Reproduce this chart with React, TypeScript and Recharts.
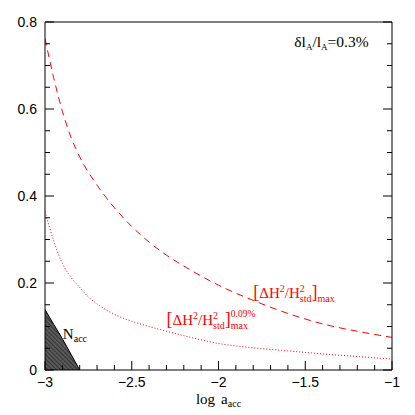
import React from 'react';
import {
  ComposedChart,
  Line,
  Area,
  XAxis,
  YAxis,
  ReferenceDot,
} from 'recharts';

// log a_acc grid for each curve
const dashedX = [-3, -2.95, -2.9, -2.85, -2.8, -2.7, -2.6, -2.5, -2.4, -2.3, -2.2, -2.0, -1.8, -1.6, -1.4, -1.2, -1.0];
const dashedY = [0.762, 0.672, 0.595, 0.535, 0.49, 0.425, 0.373, 0.33, 0.294, 0.264, 0.239, 0.195, 0.16, 0.13, 0.106, 0.089, 0.075];

const dottedX = [-3, -2.95, -2.9, -2.85, -2.8, -2.75, -2.7, -2.6, -2.5, -2.4, -2.2, -2.0, -1.8, -1.6, -1.4, -1.2, -1.0];
const dottedY = [0.364, 0.297, 0.245, 0.213, 0.19, 0.168, 0.152, 0.128, 0.112, 0.1, 0.079, 0.061, 0.051, 0.044, 0.037, 0.031, 0.025];

const naccX = [-3, -2.95, -2.9, -2.85, -2.8];
const naccY = [0.139, 0.105, 0.072, 0.036, 0];

const xMajorTicks = [-3, -2.5, -2, -1.5, -1];
const xMinorTicks = [-2.9, -2.8, -2.7, -2.6, -2.4, -2.3, -2.2, -2.1, -1.9, -1.8, -1.7, -1.6, -1.4, -1.3, -1.2, -1.1];
const yMajorTicks = [0, 0.2, 0.4, 0.6, 0.8];
const yMinorTicks = [0.05, 0.1, 0.15, 0.25, 0.3, 0.35, 0.45, 0.5, 0.55, 0.65, 0.7, 0.75];

const xTicks = [...xMajorTicks, ...xMinorTicks].sort((a, b) => a - b);
const yTicks = [...yMajorTicks, ...yMinorTicks].sort((a, b) => a - b);

const dashedData = dashedX.map((x, i) => ({ x, y: dashedY[i] }));
const dottedData = dottedX.map((x, i) => ({ x, y: dottedY[i] }));
const naccData = naccX.map((x, i) => ({ x, y: naccY[i] }));

const RED = '#ff0000';
const SERIF = '"Liberation Serif", "DejaVu Serif", serif';
const SANS = '"Liberation Sans", Arial, sans-serif';

const isMajor = (v: number, majors: number[]) => majors.some((m) => Math.abs(m - v) < 1e-6);
const fmt = (v: number) => (v < 0 ? '\u2212' + Math.abs(v) : String(v));

const XTick = ({ x, y, payload, side }: any) => {
  const major = isMajor(payload.value, xMajorTicks);
  const len = major ? 9 : 5;
  const dir = side === 'bottom' ? -1 : 1;
  return (
    <g>
      <line x1={x} x2={x} y1={y} y2={y + dir * len} stroke="#000" strokeWidth={1} />
      {side === 'bottom' && major && (
        <text x={x} y={y + 17} textAnchor="middle" fontFamily={SANS} fontSize={14} fill="#000">
          {fmt(payload.value)}
        </text>
      )}
    </g>
  );
};

const YTick = ({ x, y, payload, side }: any) => {
  const major = isMajor(payload.value, yMajorTicks);
  const len = major ? 9 : 5;
  const dir = side === 'left' ? 1 : -1;
  return (
    <g>
      <line x1={x} x2={x + dir * len} y1={y} y2={y} stroke="#000" strokeWidth={1} />
      {side === 'left' && major && (
        <text x={x - 8} y={y + 5} textAnchor="end" fontFamily={SANS} fontSize={14} fill="#000">
          {fmt(payload.value)}
        </text>
      )}
    </g>
  );
};

const XLabel = ({ viewBox }: any) => {
  const cx = viewBox.x + viewBox.width / 2;
  return (
    <text x={cx} y={viewBox.y + 34} textAnchor="middle" fontFamily={SERIF} fontSize={15} fill="#000">
      log<tspan dx={6}>a</tspan>
      <tspan fontSize={10} dy={3}>acc</tspan>
    </text>
  );
};

const MaxLabel = ({ cx, cy }: any) => (
  <text x={cx} y={cy} fontFamily={SERIF} fontSize={15} fill={RED}>
    <tspan fontSize={18}>[</tspan>
    <tspan>ΔH</tspan>
    <tspan fontSize={10} dy={-6}>2</tspan>
    <tspan dy={6}>/H</tspan>
    <tspan fontSize={10} dy={-6}>2</tspan>
    <tspan fontSize={10} dx={-5} dy={10}>std</tspan>
    <tspan fontSize={18} dy={-4}>]</tspan>
    <tspan fontSize={10} dy={4}>max</tspan>
  </text>
);

const MaxPctLabel = ({ cx, cy }: any) => (
  <text x={cx} y={cy} fontFamily={SERIF} fontSize={15} fill={RED}>
    <tspan fontSize={18}>[</tspan>
    <tspan>ΔH</tspan>
    <tspan fontSize={10} dy={-6}>2</tspan>
    <tspan dy={6}>/H</tspan>
    <tspan fontSize={10} dy={-6}>2</tspan>
    <tspan fontSize={10} dx={-5} dy={10}>std</tspan>
    <tspan fontSize={18} dy={-4}>]</tspan>
    <tspan fontSize={9.5} dy={-8}>0.09%</tspan>
    <tspan fontSize={10} dx={-24.5} dy={12}>max</tspan>
  </text>
);

const ErrLabel = ({ cx, cy }: any) => (
  <text x={cx} y={cy} fontFamily={SERIF} fontSize={15.5} fill="#000">
    δl<tspan fontSize={9} dy={3}>A</tspan>
    <tspan dy={-3}>/l</tspan>
    <tspan fontSize={9} dy={3}>A</tspan>
    <tspan dy={-3}>=0.3%</tspan>
  </text>
);

const NaccLabel = ({ cx, cy }: any) => (
  <text x={cx} y={cy} fontFamily={SERIF} fontSize={15} fill="#000" stroke="none">
    N<tspan fontSize={10} dy={3} fill="#000">acc</tspan>
  </text>
);

export default function App() {
  return (
    <ComposedChart width={407} height={407} margin={{ top: 13, right: 22, bottom: 15, left: 7 }}>
      <defs>
        <pattern id="hatch" patternUnits="userSpaceOnUse" width={3} height={3} patternTransform="rotate(-45)">
          <rect width={3} height={3} fill="#5a5a5a" />
          <line x1={0} y1={0} x2={0} y2={3} stroke="#1a1a1a" strokeWidth={1.2} />
        </pattern>
      </defs>
      <XAxis
        dataKey="x"
        type="number"
        domain={[-3, -1]}
        ticks={xTicks}
        interval={0}
        allowDataOverflow
        height={30}
        tickSize={0}
        tickMargin={0}
        tickLine={false}
        axisLine={{ stroke: '#000' }}
        tick={<XTick side="bottom" />}
        label={{ content: <XLabel /> }}
      />
      <XAxis
        xAxisId="top"
        orientation="top"
        type="number"
        domain={[-3, -1]}
        ticks={xTicks}
        interval={0}
        allowDataOverflow
        height={1}
        tickSize={0}
        tickMargin={0}
        tickLine={false}
        axisLine={{ stroke: '#000' }}
        tick={<XTick side="top" />}
      />
      <YAxis
        type="number"
        domain={[0, 0.8]}
        ticks={yTicks}
        interval={0}
        allowDataOverflow
        width={30}
        tickSize={0}
        tickMargin={0}
        tickLine={false}
        axisLine={{ stroke: '#000' }}
        tick={<YTick side="left" />}
      />
      <YAxis
        yAxisId="right"
        orientation="right"
        type="number"
        domain={[0, 0.8]}
        ticks={yTicks}
        interval={0}
        allowDataOverflow
        width={1}
        tickSize={0}
        tickMargin={0}
        tickLine={false}
        axisLine={{ stroke: '#000' }}
        tick={<YTick side="right" />}
      />
      <Area
        data={naccData}
        dataKey="y"
        type="monotone"
        stroke="#000"
        strokeWidth={1}
        fill="url(#hatch)"
        fillOpacity={1}
        isAnimationActive={false}
      />
      <Line
        data={dashedData}
        dataKey="y"
        type="monotone"
        stroke={RED}
        strokeWidth={1}
        strokeDasharray="7 5"
        dot={false}
        isAnimationActive={false}
      />
      <Line
        data={dottedData}
        dataKey="y"
        type="monotone"
        stroke={RED}
        strokeWidth={1}
        strokeDasharray="1 2"
        dot={false}
        isAnimationActive={false}
      />
      <ReferenceDot x={-1.799} y={0.166} r={0} shape={<MaxLabel />} />
      <ReferenceDot x={-2.299} y={0.103} r={0} shape={<MaxPctLabel />} />
      <ReferenceDot x={-1.563} y={0.743} r={0} shape={<ErrLabel />} />
      <ReferenceDot x={-2.897} y={0.071} r={0} shape={<NaccLabel />} />
    </ComposedChart>
  );
}
